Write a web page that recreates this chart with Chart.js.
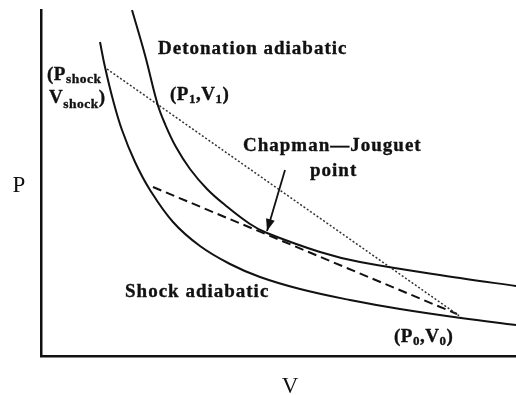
<!DOCTYPE html>
<html>
<head>
<meta charset="utf-8">
<script src="https://cdn.jsdelivr.net/npm/chart.js@4/dist/chart.umd.min.js"></script>
<style>
  html, body { margin: 0; padding: 0; background: #fff; }
  #wrap { width: 516px; height: 395px; position: relative; }
</style>
</head>
<body>
<div id="wrap"><canvas id="c"></canvas></div>
<script>
// Shock adiabatic (Hugoniot of the unreacted material): V and P pairs
const shockV = [1.242, 1.347, 1.516, 1.705, 1.979, 2.295, 2.779, 3.347, 3.979, 4.611, 5.453, 6.505, 7.558, 8.842, 10.0];
const shockP = [9.075, 8.353, 7.399, 6.532, 5.607, 4.798, 3.873, 3.179, 2.659, 2.283, 1.936, 1.618, 1.358, 1.098, 0.896];

// Detonation adiabatic (Hugoniot of the reaction products)
const detV = [1.916, 2.189, 2.453, 2.611, 2.842, 3.137, 3.495, 3.874, 4.400, 4.758, 5.874, 6.716, 8.821, 10.0];
const detP = [10.0, 8.699, 7.283, 6.705, 6.040, 5.405, 4.827, 4.364, 3.815, 3.555, 3.006, 2.717, 2.254, 2.023];

// Rayleigh line from the shock state down to the initial state (P0, V0)
const rayleighV = [1.389, 8.842];
const rayleighP = [8.295, 1.127];

// Rayleigh line tangent to the detonation adiabatic (Chapman-Jouguet condition)
const tangentV = [2.358, 8.758];
const tangentP = [4.884, 1.214];

// Arrow pointing at the Chapman-Jouguet point
const arrowV = [5.137, 4.758];
const arrowP = [5.376, 3.613];

const pts = (xs, ys) => xs.map((x, i) => ({ x: x, y: ys[i] }));

const serif = '"Liberation Serif", "Times New Roman", serif';

function drawText(ctx, str, x, y, size, bold, spacing) {
  ctx.font = (bold ? 'bold ' : '') + size + 'px ' + serif;
  ctx.letterSpacing = (spacing || 0) + 'px';
  ctx.fillText(str, x, y);
  if (bold) ctx.strokeText(str, x, y);
  return x + ctx.measureText(str).width;
}

// Runs of [text, size, baseline shift, letter spacing] drawn left to right
function drawRuns(ctx, runs, x, y) {
  let cx = x;
  runs.forEach(r => {
    cx = drawText(ctx, r[0], cx, y + (r[2] || 0), r[1], true, r[3] === undefined ? 0.5 : r[3]);
  });
}

const annotations = {
  id: 'annotations',
  afterDatasetsDraw(chart) {
    const ctx = chart.ctx;
    const xs = chart.scales.x, ys = chart.scales.y;
    ctx.save();
    ctx.fillStyle = '#111';
    ctx.strokeStyle = '#111';
    ctx.lineWidth = 0.35;
    ctx.textBaseline = 'alphabetic';
    ctx.textAlign = 'left';

    // Arrow head at the Chapman-Jouguet point
    const x0 = xs.getPixelForValue(arrowV[0]), y0 = ys.getPixelForValue(arrowP[0]);
    const x1 = xs.getPixelForValue(arrowV[1]), y1 = ys.getPixelForValue(arrowP[1]);
    const ang = Math.atan2(y1 - y0, x1 - x0);
    const L = 12, W = 4.5;
    ctx.beginPath();
    ctx.moveTo(x1, y1);
    ctx.lineTo(x1 - L * Math.cos(ang) + W * Math.sin(ang), y1 - L * Math.sin(ang) - W * Math.cos(ang));
    ctx.lineTo(x1 - L * Math.cos(ang) - W * Math.sin(ang), y1 - L * Math.sin(ang) + W * Math.cos(ang));
    ctx.closePath();
    ctx.fill();

    // Curve and point labels
    drawText(ctx, 'Detonation adiabatic', 158, 54, 19, true, 1);
    drawText(ctx, 'Chapman\u2014Jouguet', 243, 151, 19, true, 1);
    drawText(ctx, 'point', 310, 176, 19, true, 1);
    drawText(ctx, 'Shock adiabatic', 125, 297, 19, true, 1);

    drawRuns(ctx, [['(P', 19, 0], ['shock', 13.5, 3]], 47, 80);
    drawRuns(ctx, [['V', 19, 0], ['shock', 13.5, 5], [')', 19, 0]], 49, 103);
    drawRuns(ctx, [['(P', 19, 0], ['1', 13, 3], [',V', 19, 0], ['1', 13, 3], [')', 19, 0]], 170, 100);
    drawRuns(ctx, [['(P', 19, 0], ['0', 13, 3], [',V', 19, 0], ['0', 13, 3], [')', 19, 0]], 394, 342);

    // Axis names
    ctx.textAlign = 'center';
    drawText(ctx, 'P', 19, 192, 23, false, 0);
    drawText(ctx, 'V', 290, 393, 23, false, 0);
    ctx.restore();
  }
};

const curveStyle = { borderColor: '#111', borderWidth: 2, pointRadius: 0, tension: 0.4, fill: false };

new Chart(document.getElementById('c'), {
  type: 'line',
  data: {
    datasets: [
      Object.assign({ label: 'Shock adiabatic', data: pts(shockV, shockP) }, curveStyle),
      Object.assign({ label: 'Detonation adiabatic', data: pts(detV, detP) }, curveStyle),
      {
        label: 'Rayleigh line',
        data: pts(rayleighV, rayleighP),
        borderColor: '#333', borderWidth: 1.5, borderDash: [2, 2],
        pointRadius: 0, tension: 0, fill: false
      },
      {
        label: 'CJ tangent',
        data: pts(tangentV, tangentP),
        borderColor: '#111', borderWidth: 2, borderDash: [9, 5],
        pointRadius: 0, tension: 0, fill: false
      },
      {
        label: 'CJ arrow',
        data: pts(arrowV, arrowP),
        borderColor: '#111', borderWidth: 1.8,
        pointRadius: 0, tension: 0, fill: false
      }
    ]
  },
  options: {
    responsive: true,
    maintainAspectRatio: false,
    animation: false,
    layout: { padding: { left: 41, top: 10, right: 0, bottom: 39 } },
    plugins: { legend: { display: false }, tooltip: { enabled: false } },
    scales: {
      x: {
        type: 'linear', min: 0, max: 10,
        grid: { display: false },
        ticks: { display: false },
        border: { display: true, color: '#111', width: 2.5 },
        afterFit(scale) { scale.height = 0; }
      },
      y: {
        type: 'linear', min: 0, max: 10,
        grid: { display: false },
        ticks: { display: false },
        border: { display: true, color: '#111', width: 2.5 },
        afterFit(scale) { scale.width = 0; }
      }
    }
  },
  plugins: [annotations]
});
</script>
</body>
</html>
